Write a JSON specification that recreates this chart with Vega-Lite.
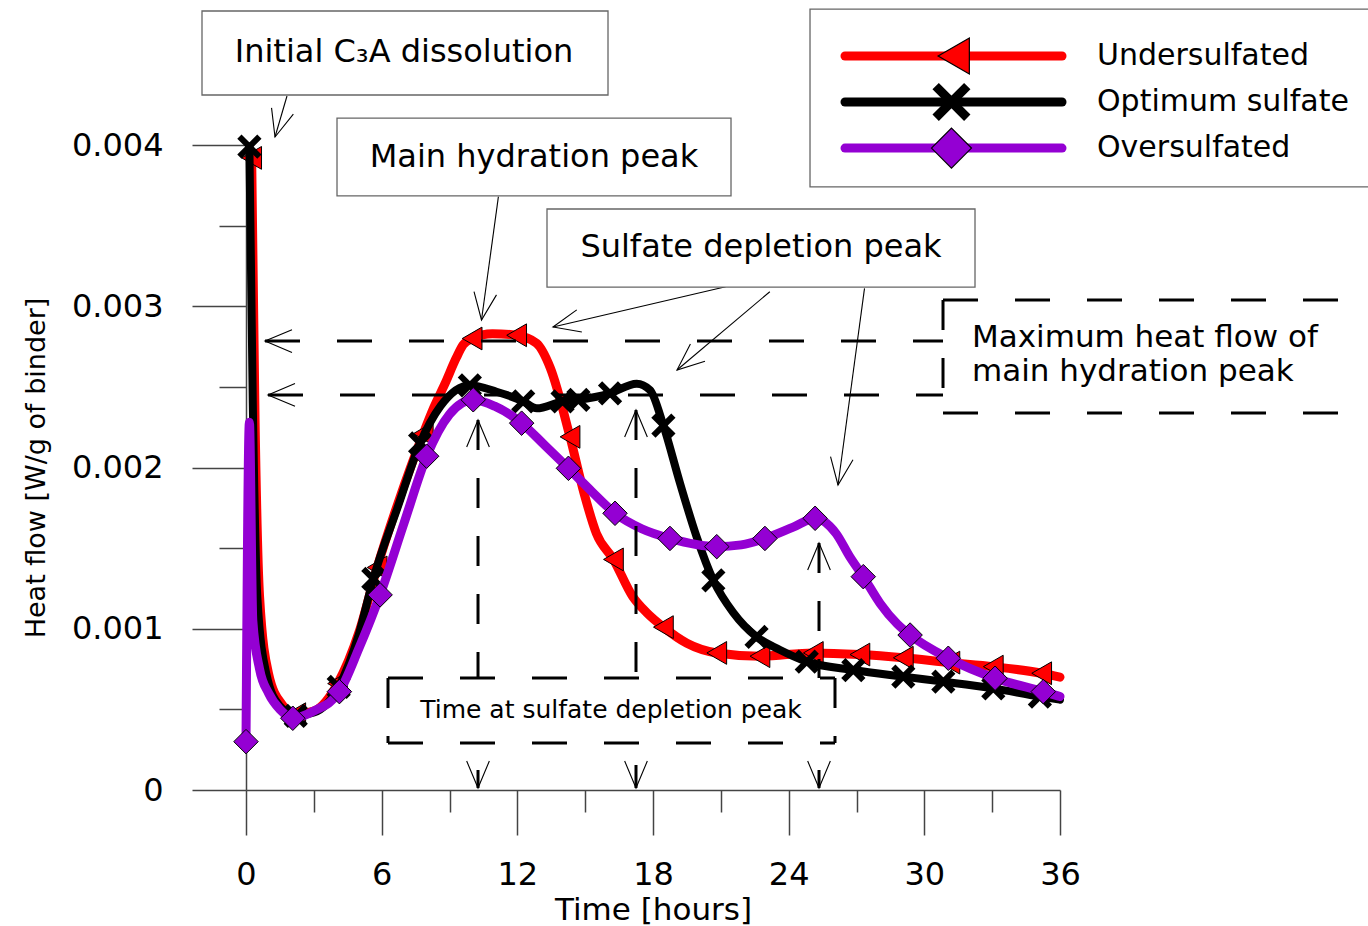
{
"$schema":"https://vega.github.io/schema/vega-lite/v6.json",
"width":814,"height":645,
"autosize":{"type":"none"},
"padding":{"left":246,"top":145,"right":308,"bottom":136},
"background":"white",
"config":{"view":{"stroke":null},"font":"DejaVu Sans"},
"datasets":{
"curves":[
{"s":"under","x":0.25,"y":0.00392,"m":1},{"s":"under","x":0.4,"y":0.0023,"m":0},{"s":"under","x":0.6,"y":0.0012,"m":0},{"s":"under","x":1.0,"y":0.00072,"m":0},{"s":"under","x":1.6,"y":0.00053,"m":0},{"s":"under","x":2.2,"y":0.00047,"m":1},{"s":"under","x":3.0,"y":0.00049,"m":0},{"s":"under","x":4.05,"y":0.00066,"m":1},{"s":"under","x":5.0,"y":0.00098,"m":0},{"s":"under","x":5.8,"y":0.00138,"m":1},{"s":"under","x":6.7,"y":0.00177,"m":0},{"s":"under","x":7.84,"y":0.00221,"m":1},{"s":"under","x":8.3,"y":0.00237,"m":0},{"s":"under","x":8.8,"y":0.00252,"m":0},{"s":"under","x":9.3,"y":0.00268,"m":0},{"s":"under","x":9.6,"y":0.00276,"m":0},{"s":"under","x":10.0,"y":0.0028,"m":1},{"s":"under","x":10.9,"y":0.00283,"m":0},{"s":"under","x":11.97,"y":0.00282,"m":1},{"s":"under","x":12.85,"y":0.00277,"m":0},{"s":"under","x":13.45,"y":0.00262,"m":0},{"s":"under","x":14.33,"y":0.00219,"m":1},{"s":"under","x":14.95,"y":0.00184,"m":0},{"s":"under","x":15.5,"y":0.00159,"m":0},{"s":"under","x":16.25,"y":0.00143,"m":1},{"s":"under","x":17.1,"y":0.0012,"m":0},{"s":"under","x":17.72,"y":0.0011,"m":0},{"s":"under","x":18.46,"y":0.00101,"m":1},{"s":"under","x":19.5,"y":0.00091,"m":0},{"s":"under","x":20.82,"y":0.00085,"m":1},{"s":"under","x":22.73,"y":0.00083,"m":1},{"s":"under","x":25.09,"y":0.00085,"m":1},{"s":"under","x":27.15,"y":0.00084,"m":1},{"s":"under","x":29.07,"y":0.00082,"m":1},{"s":"under","x":31.13,"y":0.00079,"m":1},{"s":"under","x":33.05,"y":0.000765,"m":1},{"s":"under","x":35.19,"y":0.000724,"m":1},{"s":"under","x":36.0,"y":0.0007,"m":0},
{"s":"opt","x":0.15,"y":0.00399,"m":1},{"s":"opt","x":0.3,"y":0.0024,"m":0},{"s":"opt","x":0.5,"y":0.0012,"m":0},{"s":"opt","x":0.9,"y":0.00072,"m":0},{"s":"opt","x":1.5,"y":0.00052,"m":0},{"s":"opt","x":2.2,"y":0.00046,"m":1},{"s":"opt","x":3.0,"y":0.00048,"m":0},{"s":"opt","x":4.1,"y":0.00064,"m":1},{"s":"opt","x":5.0,"y":0.00097,"m":0},{"s":"opt","x":5.63,"y":0.00131,"m":1},{"s":"opt","x":6.7,"y":0.00175,"m":0},{"s":"opt","x":7.7,"y":0.00215,"m":1},{"s":"opt","x":8.6,"y":0.00238,"m":0},{"s":"opt","x":9.9,"y":0.00251,"m":1},{"s":"opt","x":11.08,"y":0.00247,"m":0},{"s":"opt","x":12.26,"y":0.00241,"m":1},{"s":"opt","x":12.86,"y":0.002367,"m":0},{"s":"opt","x":14.0,"y":0.00241,"m":1},{"s":"opt","x":14.7,"y":0.00242,"m":1},{"s":"opt","x":16.1,"y":0.00246,"m":1},{"s":"opt","x":17.28,"y":0.00252,"m":0},{"s":"opt","x":17.87,"y":0.00248,"m":0},{"s":"opt","x":18.46,"y":0.00226,"m":1},{"s":"opt","x":19.2,"y":0.0019,"m":0},{"s":"opt","x":19.93,"y":0.00157,"m":0},{"s":"opt","x":20.67,"y":0.0013,"m":1},{"s":"opt","x":21.55,"y":0.0011,"m":0},{"s":"opt","x":22.58,"y":0.00095,"m":1},{"s":"opt","x":23.6,"y":0.00087,"m":0},{"s":"opt","x":24.8,"y":0.000796,"m":1},{"s":"opt","x":26.86,"y":0.000744,"m":1},{"s":"opt","x":29.07,"y":0.000703,"m":1},{"s":"opt","x":30.84,"y":0.000672,"m":1},{"s":"opt","x":33.05,"y":0.00063,"m":1},{"s":"opt","x":35.11,"y":0.000579,"m":1},{"s":"opt","x":36.0,"y":0.00056,"m":0},
{"s":"over","x":0.0,"y":0.0003,"m":1},{"s":"over","x":0.15,"y":0.00228,"m":0},{"s":"over","x":0.3,"y":0.00105,"m":0},{"s":"over","x":0.6,"y":0.00075,"m":0},{"s":"over","x":1.0,"y":0.0006,"m":0},{"s":"over","x":1.5,"y":0.0005,"m":0},{"s":"over","x":2.07,"y":0.000445,"m":1},{"s":"over","x":3.0,"y":0.00049,"m":0},{"s":"over","x":4.13,"y":0.00061,"m":1},{"s":"over","x":5.0,"y":0.00088,"m":0},{"s":"over","x":5.93,"y":0.00121,"m":1},{"s":"over","x":7.0,"y":0.00166,"m":0},{"s":"over","x":7.99,"y":0.00207,"m":1},{"s":"over","x":9.0,"y":0.00233,"m":0},{"s":"over","x":10.05,"y":0.00242,"m":1},{"s":"over","x":11.0,"y":0.00238,"m":0},{"s":"over","x":12.19,"y":0.002275,"m":1},{"s":"over","x":13.2,"y":0.00214,"m":0},{"s":"over","x":14.26,"y":0.001995,"m":1},{"s":"over","x":15.3,"y":0.00185,"m":0},{"s":"over","x":16.32,"y":0.001716,"m":1},{"s":"over","x":17.5,"y":0.00162,"m":0},{"s":"over","x":18.75,"y":0.00156,"m":1},{"s":"over","x":20.82,"y":0.001509,"m":1},{"s":"over","x":21.9,"y":0.00152,"m":0},{"s":"over","x":22.95,"y":0.00156,"m":1},{"s":"over","x":24.2,"y":0.00163,"m":0},{"s":"over","x":25.17,"y":0.001685,"m":1},{"s":"over","x":26.1,"y":0.00159,"m":0},{"s":"over","x":26.7,"y":0.001447,"m":0},{"s":"over","x":27.3,"y":0.001323,"m":1},{"s":"over","x":28.04,"y":0.001158,"m":0},{"s":"over","x":28.8,"y":0.00103,"m":0},{"s":"over","x":29.37,"y":0.000961,"m":1},{"s":"over","x":31.06,"y":0.000817,"m":1},{"s":"over","x":33.13,"y":0.000693,"m":1},{"s":"over","x":35.26,"y":0.00061,"m":1},{"s":"over","x":36.0,"y":0.00058,"m":0}
],
"boxes":[
{"x":-1.946,"x2":16.01,"y":0.004831,"y2":0.00431},
{"x":4.025,"x2":21.45,"y":0.004167,"y2":0.003684},
{"x":13.312,"x2":32.241,"y":0.003603,"y2":0.003119},
{"x":24.944,"x2":49.93,"y":0.004843,"y2":0.00374}
],
"dashH":[
{"x":0.84,"x2":30.826,"y":0.002784},
{"x":0.973,"x2":30.826,"y":0.00245},
{"x":30.826,"x2":49.62,"y":0.003039},
{"x":30.826,"x2":49.62,"y":0.002338},
{"x":6.28,"x2":26.049,"y":0.0006946},
{"x":6.28,"x2":26.049,"y":0.0002915}
],
"dashV":[
{"x":30.826,"y":0.003039,"y2":0.002338},
{"x":10.261,"y":0.0022946,"y2":0.0006946},
{"x":17.248,"y":0.0023566,"y2":0.0006946},
{"x":25.342,"y":0.0015318,"y2":0.0006946},
{"x":6.28,"y":0.0006946,"y2":0.0002915},
{"x":26.049,"y":0.0006946,"y2":0.0002915}
],
"shafts":[
{"x":10.261,"y":0.000124,"y2":0.0000124},
{"x":17.248,"y":0.000155,"y2":0.0000124},
{"x":25.342,"y":0.000124,"y2":0.0000124}
],
"thin":[
{"x":1.813,"y":0.0043039,"x2":1.2826,"y2":0.0040496},
{"x":11.163,"y":0.0036794,"x2":10.415,"y2":0.0029147},
{"x":21.211,"y":0.0031212,"x2":13.577,"y2":0.0028713},
{"x":23.166,"y":0.0030902,"x2":19.062,"y2":0.0026047},
{"x":27.354,"y":0.0031113,"x2":26.182,"y2":0.0018915}
],
"heads":[
{"x":0.84,"y":0.002784,"a":180},
{"x":0.973,"y":0.00245,"a":180},
{"x":10.261,"y":0.0022946,"a":270},
{"x":17.248,"y":0.0023566,"a":270},
{"x":25.342,"y":0.0015318,"a":270},
{"x":10.261,"y":0.0000124,"a":90},
{"x":17.248,"y":0.0000124,"a":90},
{"x":25.342,"y":0.0000124,"a":90},
{"x":1.2826,"y":0.0040496,"a":106},
{"x":10.415,"y":0.0029147,"a":98},
{"x":13.577,"y":0.0028713,"a":167},
{"x":19.062,"y":0.0026047,"a":140},
{"x":26.182,"y":0.0018915,"a":98}
],
"legend":[
{"s":"under","x":26.492,"x2":36.089,"xm":31.3,"y":0.004552},
{"s":"opt","x":26.492,"x2":36.089,"xm":31.2,"y":0.004267},
{"s":"over","x":26.492,"x2":36.089,"xm":31.2,"y":0.003981}
],
"texts":[
{"k":"box","x":6.988,"y":0.0045767,"text":"Initial C₃A dissolution"},
{"k":"box","x":12.737,"y":0.003926,"text":"Main hydration peak"},
{"k":"box","x":22.777,"y":0.003367,"text":"Sulfate depletion peak"},
{"k":"leg","x":37.636,"y":0.004552,"text":"Undersulfated"},
{"k":"leg","x":37.636,"y":0.004267,"text":"Optimum sulfate"},
{"k":"leg","x":37.636,"y":0.003981,"text":"Oversulfated"},
{"k":"max","x":32.108,"y":0.002803,"text":"Maximum heat flow of"},
{"k":"max","x":32.108,"y":0.002592,"text":"main hydration peak"},
{"k":"time","x":16.143,"y":0.000496,"text":"Time at sulfate depletion peak"}
]
},
"encoding":{
"x":{"field":"x","type":"quantitative","scale":{"domain":[0,36],"nice":false,"zero":false},
"axis":{"values":[0,3,6,9,12,15,18,21,24,27,30,33,36],"title":"Time [hours]","titleFontSize":31,"titleFontWeight":"normal","titleColor":"#000","titlePadding":5,"labelFontSize":32,"labelColor":"#000","labelPadding":24,"labelFlush":false,"labelOverlap":false,"labelExpr":"datum.value % 6 === 0 ? datum.label : ''","tickSize":{"condition":{"test":"datum.value % 6 === 0","value":45},"value":22},"tickColor":"#444","tickWidth":1.5,"domainColor":"#444","domainWidth":1.5,"grid":false}},
"y":{"field":"y","type":"quantitative","scale":{"domain":[0,0.004],"nice":false,"zero":false},
"axis":{"values":[0,0.0005,0.001,0.0015,0.002,0.0025,0.003,0.0035,0.004],"title":"Heat flow [W/g of binder]","titleFontSize":27,"titleFontWeight":"normal","titleColor":"#000","titlePadding":21,"labelFontSize":32,"labelColor":"#000","labelPadding":29,"labelOverlap":false,"labelFlush":false,"labelExpr":"abs(datum.value*1000-round(datum.value*1000))<0.000001 ? format(datum.value,'.3~f') : ''","tickSize":{"condition":{"test":"abs(datum.value*1000-round(datum.value*1000))<0.000001","value":54},"value":27},"tickColor":"#444","tickWidth":1.5,"domainColor":"#444","domainWidth":1.5,"grid":false}}
},
"layer":[
{"data":{"name":"curves"},"transform":[{"filter":"datum.s === 'under'"}],"mark":{"type":"line","color":"#ff0000","strokeWidth":9,"interpolate":"monotone","strokeCap":"round","strokeJoin":"round"}},
{"data":{"name":"curves"},"transform":[{"filter":"datum.s === 'under' && datum.m === 1"}],"mark":{"type":"point","shape":"triangle-left","size":520,"filled":true,"fill":"#ff0000","stroke":"#000","strokeWidth":1,"opacity":1}},
{"data":{"name":"curves"},"transform":[{"filter":"datum.s === 'opt'"}],"mark":{"type":"line","color":"#000000","strokeWidth":8,"interpolate":"monotone","strokeCap":"round","strokeJoin":"round"}},
{"data":{"name":"curves"},"transform":[{"filter":"datum.s === 'opt' && datum.m === 1"}],"mark":{"type":"point","shape":"M-1,-1L1,1M1,-1L-1,1","size":400,"filled":false,"stroke":"#000","strokeWidth":6,"opacity":1}},
{"data":{"name":"curves"},"transform":[{"filter":"datum.s === 'over'"}],"mark":{"type":"line","color":"#9400d3","strokeWidth":9,"interpolate":"monotone","strokeCap":"round","strokeJoin":"round"}},
{"data":{"name":"curves"},"transform":[{"filter":"datum.s === 'over' && datum.m === 1"}],"mark":{"type":"point","shape":"diamond","size":600,"filled":true,"fill":"#9400d3","stroke":"#000","strokeWidth":1,"opacity":1}},
{"data":{"name":"dashH"},"mark":{"type":"rule","color":"#000","strokeWidth":3,"strokeDash":[35,37]},"encoding":{"x2":{"field":"x2"}}},
{"data":{"name":"dashV"},"mark":{"type":"rule","color":"#000","strokeWidth":3,"strokeDash":[30,28]},"encoding":{"y2":{"field":"y2"}}},
{"data":{"name":"shafts"},"mark":{"type":"rule","color":"#000","strokeWidth":3},"encoding":{"y2":{"field":"y2"}}},
{"data":{"name":"thin"},"mark":{"type":"rule","color":"#000","strokeWidth":1.1},"encoding":{"x2":{"field":"x2"},"y2":{"field":"y2"}}},
{"data":{"name":"heads"},"mark":{"type":"point","shape":"M-1,-0.42L0,0L-1,0.42","size":2916,"filled":false,"stroke":"#000","strokeWidth":1.1,"opacity":1},"encoding":{"angle":{"field":"a","type":"quantitative","scale":null}}},
{"data":{"name":"boxes"},"mark":{"type":"rect","fill":"#fff","stroke":"#666","strokeWidth":1.3},"encoding":{"x2":{"field":"x2"},"y2":{"field":"y2"}}},
{"data":{"name":"texts"},"transform":[{"filter":"datum.k === 'box'"}],"mark":{"type":"text","fontSize":32,"align":"center","baseline":"middle","color":"#000"},"encoding":{"text":{"field":"text"}}},
{"data":{"name":"legend"},"mark":{"type":"rule","strokeWidth":9,"strokeCap":"round"},"encoding":{"x2":{"field":"x2"},"color":{"field":"s","type":"nominal","scale":{"domain":["under","opt","over"],"range":["#ff0000","#000000","#9400d3"]},"legend":null}}},
{"data":{"name":"legend"},"transform":[{"filter":"datum.s === 'under'"}],"mark":{"type":"point","shape":"triangle-left","size":1300,"filled":true,"fill":"#ff0000","stroke":"#000","strokeWidth":1.2,"opacity":1},"encoding":{"x":{"field":"xm","type":"quantitative"}}},
{"data":{"name":"legend"},"transform":[{"filter":"datum.s === 'opt'"}],"mark":{"type":"point","shape":"M-1,-1L1,1M1,-1L-1,1","size":1000,"filled":false,"stroke":"#000","strokeWidth":9,"opacity":1},"encoding":{"x":{"field":"xm","type":"quantitative"}}},
{"data":{"name":"legend"},"transform":[{"filter":"datum.s === 'over'"}],"mark":{"type":"point","shape":"diamond","size":1600,"filled":true,"fill":"#9400d3","stroke":"#000","strokeWidth":1.2,"opacity":1},"encoding":{"x":{"field":"xm","type":"quantitative"}}},
{"data":{"name":"texts"},"transform":[{"filter":"datum.k === 'leg'"}],"mark":{"type":"text","fontSize":30,"align":"left","baseline":"middle","color":"#000"},"encoding":{"text":{"field":"text"}}},
{"data":{"name":"texts"},"transform":[{"filter":"datum.k === 'max'"}],"mark":{"type":"text","fontSize":31,"align":"left","baseline":"middle","color":"#000"},"encoding":{"text":{"field":"text"}}},
{"data":{"name":"texts"},"transform":[{"filter":"datum.k === 'time'"}],"mark":{"type":"text","fontSize":25,"align":"center","baseline":"middle","color":"#000"},"encoding":{"text":{"field":"text"}}}
]
}
